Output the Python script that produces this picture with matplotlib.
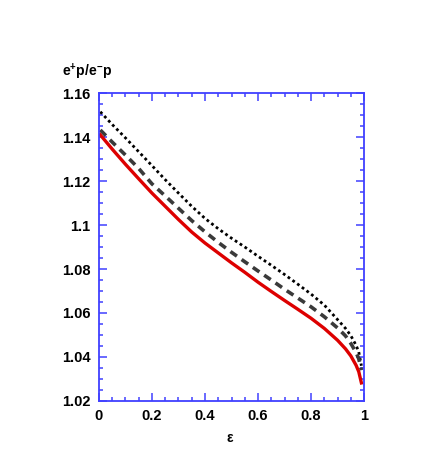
import matplotlib
matplotlib.use("Agg")
import matplotlib.pyplot as plt
from matplotlib.ticker import MultipleLocator, FuncFormatter

plt.rcParams['font.family'] = ['Liberation Sans', 'DejaVu Sans']
plt.rcParams['mathtext.fontset'] = 'custom'
plt.rcParams['mathtext.rm'] = 'Liberation Sans:bold'
plt.rcParams['mathtext.it'] = 'Liberation Sans:bold'
plt.rcParams['mathtext.bf'] = 'Liberation Sans:bold'

# epsilon grid
eps = [0.005, 0.05, 0.1, 0.15, 0.2, 0.25, 0.3, 0.35, 0.4, 0.45, 0.5, 0.55, 0.6, 0.65,
       0.7, 0.75, 0.8, 0.85, 0.9, 0.93, 0.95, 0.97, 0.98, 0.99]
# ratio curves
red_val = [1.1410, 1.1345, 1.1276, 1.1210, 1.1145, 1.1085, 1.1025, 1.0968, 1.0918, 1.0873,
           1.0828, 1.0785, 1.0740, 1.0698, 1.0657, 1.0617, 1.0576, 1.0530, 1.0476, 1.0437,
           1.0405, 1.0362, 1.0333, 1.0282]
dash_val = [1.1432, 1.1377, 1.1318, 1.1257, 1.1187, 1.1132, 1.1076, 1.1020, 1.0969, 1.0921,
            1.0876, 1.0833, 1.0791, 1.0750, 1.0708, 1.0668, 1.0628, 1.0583, 1.0532, 1.0496,
            1.0462, 1.0420, 1.0392, 1.0340]
dot_val = [1.1515, 1.1457, 1.1396, 1.1333, 1.1270, 1.1206, 1.1145, 1.1085, 1.1030, 1.0983,
           1.0940, 1.0900, 1.0858, 1.0817, 1.0775, 1.0731, 1.0686, 1.0636, 1.0570, 1.0530,
           1.0497, 1.0453, 1.0423, 1.0360]

fig = plt.figure(figsize=(4.36, 4.63), dpi=100)
ax = fig.add_axes([0.227, 0.134, 0.608, 0.665])

ax.plot(eps, dot_val, color='black', lw=2.0, linestyle=(0, (1, 1.1)))
ax.plot(eps, dash_val, color='#3a3a3a', lw=2.6, linestyle=(0, (2.2, 1.6)))
ax.plot(eps, red_val, color='#dd0000', lw=2.4)

ax.set_xlim(0, 1)
ax.set_ylim(1.02, 1.16)
ax.xaxis.set_major_locator(MultipleLocator(0.2))
ax.xaxis.set_minor_locator(MultipleLocator(0.05))
ax.yaxis.set_major_locator(MultipleLocator(0.02))
ax.yaxis.set_minor_locator(MultipleLocator(0.005))

ax.xaxis.set_major_formatter(FuncFormatter(lambda v, p: ('%g' % round(v, 2))))
ax.yaxis.set_major_formatter(FuncFormatter(lambda v, p: ('%g' % round(v, 2))))

for s in ax.spines.values():
    s.set_color('#4040ff')
    s.set_linewidth(1.3)
ax.tick_params(which='both', direction='in', top=True, right=True, color='#4040ff',
               labelsize=10.5, width=1.1)
ax.tick_params(which='major', length=6, pad=6)
ax.tick_params(which='minor', length=3)
for lab in ax.get_xticklabels() + ax.get_yticklabels():
    lab.set_fontweight('bold')

fig.text(0.142, 0.836, r'e$^{+}$p/e$^{-}$p', fontsize=10, fontweight='bold')
fig.text(0.528, 0.045, 'ε', fontsize=10, fontweight='bold', ha='center')

fig.savefig('out.png', dpi=100)
